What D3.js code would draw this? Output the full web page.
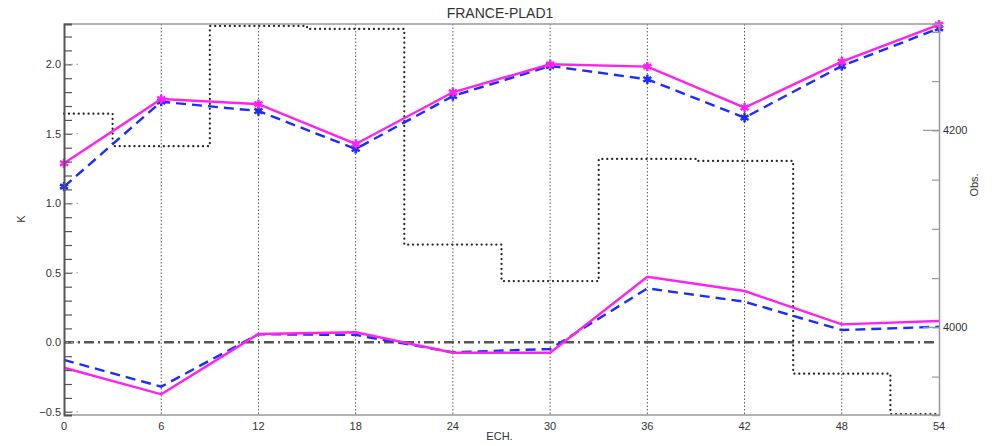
<!DOCTYPE html>
<html>
<head>
<meta charset="utf-8">
<script src="https://cdn.jsdelivr.net/npm/d3@7"></script>
<style>
  body { margin: 0; background: #fff; }
  text { font-family: "Liberation Sans", Arial, sans-serif; fill: #333; }
</style>
</head>
<body>
<div id="chart"></div>
<script>
// Lead times (hours)
const ech = [0, 6, 12, 18, 24, 30, 36, 42, 48, 54];

// RMS (upper pair) and bias (lower pair), K
const rmsA  = [1.288, 1.750, 1.714, 1.427, 1.799, 2.000, 1.983, 1.688, 2.019, 2.285];
const rmsB  = [1.120, 1.731, 1.664, 1.391, 1.772, 1.988, 1.892, 1.616, 1.988, 2.259];
const biasA = [-0.183, -0.374, 0.060, 0.072, -0.075, -0.075, 0.472, 0.369, 0.129, 0.153];
const biasB = [-0.127, -0.319, 0.058, 0.053, -0.072, -0.048, 0.388, 0.292, 0.088, 0.112];

// Number of observations per lead time
const obs = [4217, 4184, 4306, 4303, 4084, 4047, 4171, 4169, 3953, 3912];

const xTicks = [0, 6, 12, 18, 24, 30, 36, 42, 48, 54];
const yTicks = [-0.5, 0.0, 0.5, 1.0, 1.5, 2.0];
const obsTicks = [4000, 4200];

const W = 993, H = 446;
const m = { top: 24, right: 54, bottom: 31, left: 64 };
const w = W - m.left - m.right;
const h = H - m.top - m.bottom;

const svg = d3.select('#chart').append('svg')
  .attr('width', W).attr('height', H);

const g = svg.append('g').attr('transform', `translate(${m.left},${m.top})`);

const x = d3.scaleLinear().domain([0, 54]).range([0, w]);
const y = d3.scaleLinear().domain([-0.523, 2.29]).range([h, 0]);
const yObs = d3.scaleLinear().domain([3911, 4308]).range([h, 0]);

// vertical grid lines
g.selectAll('.vgrid')
  .data(xTicks.slice(1, -1))
  .join('line')
    .attr('class', 'vgrid')
    .attr('x1', d => x(d)).attr('x2', d => x(d))
    .attr('y1', 0).attr('y2', h)
    .attr('stroke', '#555').attr('stroke-width', 1)
    .attr('stroke-dasharray', '1.5,2');

// zero line
g.append('line')
  .attr('x1', 0).attr('x2', w - 4)
  .attr('y1', y(0)).attr('y2', y(0))
  .attr('stroke', '#555').attr('stroke-width', 2.5)
  .attr('stroke-dasharray', '10,4,2,4');

// observation count step line (centered steps)
const stepPts = [];
ech.forEach((e, i) => {
  const x0 = Math.max(0, e - 3), x1 = Math.min(54, e + 3);
  stepPts.push([x0, obs[i]], [x1, obs[i]]);
});
g.append('path')
  .datum(stepPts)
  .attr('fill', 'none')
  .attr('stroke', '#222').attr('stroke-width', 2.2)
  .attr('stroke-dasharray', '0.1,4.8')
  .attr('stroke-linecap', 'round')
  .attr('d', d3.line().x(d => x(d[0])).y(d => yObs(d[1])));

// series lines
const line = d3.line().x((d, i) => x(ech[i])).y(d => y(d));
const series = [
  { vals: biasB, color: '#1a2cff', dash: '10,6', marks: false },
  { vals: biasA, color: '#ff22ee', dash: null, marks: false },
  { vals: rmsB,  color: '#1a2cff', dash: '10,6', marks: true },
  { vals: rmsA,  color: '#ff22ee', dash: null, marks: true }
];
series.forEach(s => {
  g.append('path')
    .datum(s.vals)
    .attr('fill', 'none')
    .attr('stroke', s.color).attr('stroke-width', 2.4)
    .attr('stroke-dasharray', s.dash)
    .attr('d', line);
  if (s.marks) {
    g.selectAll(null)
      .data(s.vals)
      .join('path')
        .attr('transform', (d, i) => `translate(${x(ech[i])},${y(d)})`)
        .attr('d', d3.symbol(d3.symbolAsterisk, 60))
        .attr('fill', 'none')
        .attr('stroke', s.color).attr('stroke-width', 2.5);
  }
});

// frame: top and bottom
g.append('line').attr('x1', 0).attr('x2', w).attr('y1', 0).attr('y2', 0)
  .attr('stroke', '#999').attr('stroke-width', 1.5);
g.append('line').attr('x1', 0).attr('x2', w).attr('y1', h).attr('y2', h)
  .attr('stroke', '#999').attr('stroke-width', 1.5);

// left axis
const yAxis = d3.axisRight(y)
  .tickValues(d3.range(-5, 23).map(v => v / 10))
  .tickSize(8).tickFormat('');
const yAxisG = g.append('g').call(yAxis);
yAxisG.select('.domain').attr('stroke', '#555').attr('stroke-width', 2);
yAxisG.selectAll('.tick line').attr('stroke', '#555').attr('stroke-width', 1.2);

g.selectAll('.ymajor')
  .data(yTicks)
  .join('line')
    .attr('x1', 2).attr('x2', 16)
    .attr('y1', d => y(d)).attr('y2', d => y(d))
    .attr('stroke', '#aaa').attr('stroke-width', 1)
    .attr('stroke-dasharray', '2,3');
g.selectAll('.ylab')
  .data(yTicks)
  .join('text')
    .attr('x', -3).attr('y', d => y(d)).attr('dy', '0.35em')
    .attr('text-anchor', 'end').attr('font-size', 11)
    .text(d => d3.format('.1f')(d));

// right axis
const rAxis = d3.axisLeft(yObs)
  .tickValues(d3.range(3950, 4301, 50))
  .tickSize(7).tickFormat('');
const rAxisG = g.append('g').attr('transform', `translate(${w},0)`).call(rAxis);
rAxisG.select('.domain').attr('stroke', '#999').attr('stroke-width', 1.5);
rAxisG.selectAll('.tick line').attr('stroke', '#999').attr('stroke-width', 1.2);
g.selectAll('.rmajor')
  .data(obsTicks)
  .join('line')
    .attr('x1', w - 16).attr('x2', w)
    .attr('y1', d => yObs(d)).attr('y2', d => yObs(d))
    .attr('stroke', '#999').attr('stroke-width', 1.2);
g.selectAll('.rlab')
  .data(obsTicks)
  .join('text')
    .attr('x', w + 4).attr('y', d => yObs(d)).attr('dy', '0.35em')
    .attr('font-size', 11)
    .text(d => d);

// x labels
g.selectAll('.xlab')
  .data(xTicks)
  .join('text')
    .attr('x', d => x(d)).attr('y', h + 15)
    .attr('text-anchor', 'middle').attr('font-size', 11)
    .text(d => d);

// titles
svg.append('text')
  .attr('x', 500).attr('y', 18)
  .attr('text-anchor', 'middle').attr('font-size', 14)
  .text('FRANCE-PLAD1');
svg.append('text')
  .attr('x', m.left + w / 2 - 2).attr('y', 440)
  .attr('text-anchor', 'middle').attr('font-size', 11)
  .text('ECH.');
svg.append('text')
  .attr('transform', 'translate(25,219) rotate(-90)')
  .attr('text-anchor', 'middle').attr('font-size', 11)
  .text('K');
svg.append('text')
  .attr('transform', 'translate(978,185) rotate(-90)')
  .attr('text-anchor', 'middle').attr('font-size', 11)
  .text('Obs.');
</script>
</body>
</html>
